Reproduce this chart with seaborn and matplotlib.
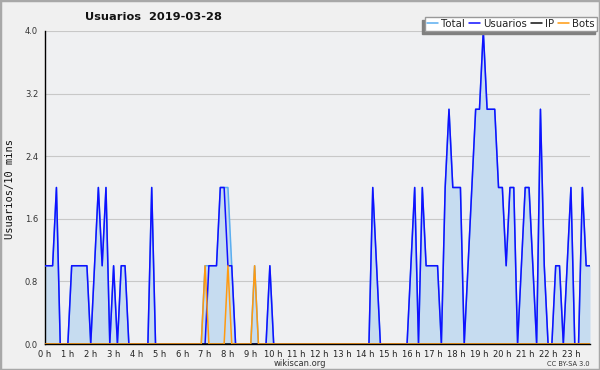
import matplotlib
matplotlib.use("Agg")
import matplotlib.pyplot as plt
import seaborn as sns
import pandas as pd
from matplotlib.ticker import MultipleLocator, FixedLocator
from matplotlib.patches import Rectangle
from matplotlib.lines import Line2D

# ---- data (10-minute buckets, 144 per day) ----
usuarios = [1, 1, 1, 2, 0, 0, 0, 1, 1, 1, 1, 1, 0, 1, 2, 1, 2, 0, 1, 0, 1, 1, 0, 0,
            0, 0, 0, 0, 2, 0, 0, 0, 0, 0, 0, 0, 0, 0, 0, 0, 0, 0, 0, 1, 1, 1, 2, 2,
            1, 1, 0, 0, 0, 0, 0, 0, 0, 0, 0, 1, 0, 0, 0, 0, 0, 0, 0, 0, 0, 0, 0, 0,
            0, 0, 0, 0, 0, 0, 0, 0, 0, 0, 0, 0, 0, 0, 2, 1, 0, 0, 0, 0, 0, 0, 0, 0,
            1, 2, 0, 2, 1, 1, 1, 1, 0, 2, 3, 2, 2, 2, 0, 1, 2, 3, 3, 4, 3, 3, 3, 2,
            2, 1, 2, 2, 0, 1, 2, 2, 1, 0, 3, 1, 0, 0, 1, 1, 0, 1, 2, 0, 0, 2, 1, 1]
bots = [0] * 144
bots[42] = 1
bots[48] = 1
bots[55] = 1
ip = [0] * 144
total = [u + b for u, b in zip(usuarios, bots)]
hours = [i / 6 for i in range(144)]
hour_ticks = list(range(24))
hour_labels = [f"{h} h" for h in hour_ticks]
y_ticks = [0.0, 0.8, 1.6, 2.4, 3.2, 4.0]
y_labels = ["0.0", "0.8", "1.6", "2.4", "3.2", "4.0"]

df = pd.DataFrame({"hour": hours, "Total": total, "Usuarios": usuarios,
                   "IP": ip, "Bots": bots})

colors = {"Total": "#5aaef0", "Usuarios": "#1010ff", "IP": "#111111", "Bots": "#ff9a10"}

sns.set_theme(style="white")
plt.rcParams["font.family"] = ["DejaVu Sans"]

W, H = 600, 370
fig = plt.figure(figsize=(6, 3.7), dpi=100, facecolor="#f0f0f0")
ax = fig.add_axes([45 / W, 1 - 344 / H, 545 / W, 313 / H])
ax.set_facecolor("#eff0f2")

ax.fill_between(df["hour"], df["Total"], color="#c6dcf0", lw=0, zorder=1)
for name in ["Total", "Usuarios", "IP", "Bots"]:
    sns.lineplot(data=df, x="hour", y=name, color=colors[name], lw=1.1,
                 ax=ax, zorder=3, legend=False)

ax.set_xlim(0, hours[-1])
ax.set_ylim(0, 4.0)
ax.xaxis.set_major_locator(FixedLocator(hour_ticks))
ax.set_xticklabels(hour_labels)
ax.xaxis.set_minor_locator(MultipleLocator(1 / 6))
ax.yaxis.set_major_locator(FixedLocator(y_ticks))
ax.set_yticklabels(y_labels)
ax.yaxis.set_minor_locator(MultipleLocator(0.2))
ax.tick_params(axis="both", which="major", direction="out", length=4, width=0.8,
               color="black", pad=1)
ax.tick_params(axis="x", which="major", pad=0.3)
ax.tick_params(axis="both", which="minor", direction="out", length=2.5, width=0.7,
               color="black")
ax.tick_params(axis="x", labelsize=6.0, labelcolor="#222222")
ax.tick_params(axis="y", labelsize=6.0, labelcolor="#333333")
ax.grid(axis="y", color="#c8c8c8", lw=0.8)
ax.set_axisbelow(True)
for s in ["top", "right"]:
    ax.spines[s].set_visible(False)
for s in ["left", "bottom"]:
    ax.spines[s].set_color("black")
    ax.spines[s].set_linewidth(1.0)
    ax.spines[s].set_zorder(2)
ax.set_xlabel("")
ax.set_ylabel("")

fig.text(10 / W, 1 - 189 / H, "Usuarios/10 mins", rotation=90, ha="center",
         va="center", fontsize=7.5, family="DejaVu Sans Mono", color="#111111")
fig.text(85 / W, 1 - 17 / H, "Usuarios  2019-03-28", ha="left", va="center",
         fontsize=8.2, fontweight="bold", color="#111111")
fig.text(300 / W, 1 - 364 / H, "wikiscan.org", ha="center", va="center",
         fontsize=6.0, color="#333333")
fig.text(590 / W, 1 - 364 / H, "CC BY-SA 3.0", ha="right", va="center",
         fontsize=4.8, color="#333333")

handles = [Line2D([], [], color=colors[n], lw=1.1) for n in ["Total", "Usuarios", "IP", "Bots"]]
leg = fig.legend(handles, ["Total", "Usuarios", "IP", "Bots"], ncol=4,
                 loc="upper right", bbox_to_anchor=(597 / W, 1 - 17 / H),
                 fontsize=7.3, frameon=True, fancybox=False, framealpha=1,
                 edgecolor="#999999", facecolor="white", handlelength=1.1,
                 handletextpad=0.3, columnspacing=0.4, borderpad=0.2,
                 borderaxespad=0,
                 shadow={"ox": -1.8, "oy": -1.8, "color": "#808080", "alpha": 1})
for t in leg.get_texts():
    t.set_color("#222222")

fig.patches.append(Rectangle((0, 0), 1, 1, transform=fig.transFigure, fill=False,
                             edgecolor="#a8a8a8", lw=2.5))

fig.savefig("out.png", dpi=100, facecolor=fig.get_facecolor())
